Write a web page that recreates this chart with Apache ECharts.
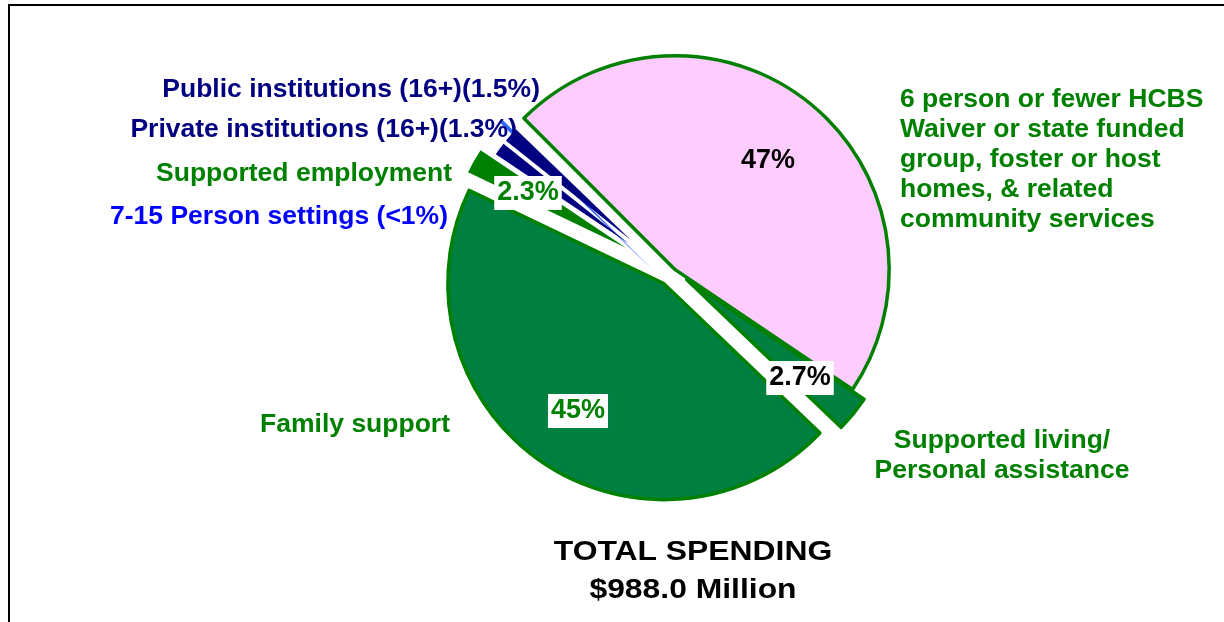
<!DOCTYPE html>
<html>
<head>
<meta charset="utf-8">
<script src="https://cdn.jsdelivr.net/npm/echarts@6/dist/echarts.min.js"></script>
<style>
  html, body { margin: 0; padding: 0; background: #fff; }
  #main { width: 1224px; height: 622px; }
</style>
</head>
<body>
<div id="main"></div>
<script>
// slices in clockwise order from the upper-left edge of the pink slice
var categories = [
    '6 person or fewer HCBS Waiver or state funded group, foster or host homes, & related community services',
    'Supported living/ Personal assistance',
    'Family support',
    'Supported employment',
    'Private institutions (16+)',
    'Public institutions (16+)',
    '7-15 Person settings'
];
var values = [47, 2.7, 45, 2.3, 1.3, 1.5, 0.3];
var pctLabels = ['47%', '2.7%', '45%', '2.3%', '', '', ''];
var nameLabels = [
    '6 person or fewer HCBS\nWaiver or state funded\ngroup, foster or host\nhomes, & related\ncommunity services',
    'Supported living/\nPersonal assistance',
    'Family support',
    'Supported employment',
    'Private institutions (16+)(1.3%)',
    'Public institutions (16+)(1.5%)',
    '7-15 Person settings (<1%)'
];

// styles
var fills = ['#ffccff', '#008040', '#008040', '#008000', '#000080', '#000080', '#3366ff'];
var borders = [3.5, 3.5, 3.5, 0, 0, 0, 0];
var nameColors = ['#008000', '#008000', '#008000', '#008000', '#000080', '#000080', '#0000ff'];
var pctColors = ['#000', '#000', '#008000', '#008000', '#000', '#000', '#000'];
var pctBg = ['transparent', '#fff', '#fff', '#fff', 'transparent', 'transparent', 'transparent'];
var sliceGroup = [0, 1, 2, 3, 4, 4, 0];
var groups = [
    { center: [665, 282], radius: 214, offset: 16 },
    { center: [675, 270], radius: 214, offset: 15 },
    { center: [665, 282], radius: 216, offset: 2 },
    { center: [665, 270], radius: 175, offset: 45 },
    { center: [665, 270], radius: 160, offset: 45 }
];
var namePos = [
    [900, 160, 'left'], [1002, 456, 'center'], [450, 425, 'right'], [452, 174, 'right'],
    [517, 130, 'right'], [540, 90, 'right'], [448, 217, 'right']
];
var pctPos = [[768, 161], [800, 378], [578, 411], [528, 193], [0, 0], [0, 0], [0, 0]];

var FONT = 'Liberation Sans, Arial, sans-serif';
var clear = 'rgba(0,0,0,0)';

var series = groups.map(function (g, gi) {
    return {
        type: 'pie',
        z: 2,
        center: g.center,
        radius: g.radius,
        startAngle: 135,
        clockwise: true,
        selectedMode: 'multiple',
        selectedOffset: g.offset,
        avoidLabelOverlap: false,
        animation: false,
        silent: true,
        label: { show: false },
        labelLine: { show: false },
        data: values.map(function (v, i) {
            var mine = sliceGroup[i] === gi;
            return {
                name: categories[i],
                value: v,
                selected: mine,
                itemStyle: {
                    color: mine ? fills[i] : clear,
                    borderColor: '#008000',
                    borderWidth: mine ? borders[i] : 0
                }
            };
        })
    };
});

// transparent overlays that carry the text labels
function labelSeries(texts, colors, bgs, pos, size) {
    return {
        type: 'pie',
        z: 10,
        center: [665, 282],
        radius: 214,
        startAngle: 135,
        animation: false,
        silent: true,
        avoidLabelOverlap: false,
        labelLine: { show: false },
        itemStyle: { color: clear, borderWidth: 0 },
        data: values.map(function (v, i) {
            return {
                name: categories[i],
                value: v,
                label: {
                    show: !!texts[i],
                    position: 'inside',
                    formatter: texts[i] || '',
                    color: colors[i],
                    backgroundColor: bgs ? bgs[i] : 'transparent',
                    padding: bgs ? [3, 3, 1, 3] : 0,
                    fontFamily: FONT,
                    fontWeight: 'bold',
                    fontSize: size,
                    lineHeight: 30,
                    align: pos[i][2] || 'center'
                }
            };
        }),
        labelLayout: function (p) {
            var q = pos[p.dataIndex];
            return { x: q[0], y: q[1], align: q[2] || 'center', verticalAlign: 'middle' };
        }
    };
}
series.push(labelSeries(nameLabels, nameColors, null, namePos, 26.5));
series.push(labelSeries(pctLabels, pctColors, pctBg, pctPos, 27));

var myChart = echarts.init(document.getElementById('main'));
myChart.setOption({
    backgroundColor: '#fff',
    tooltip: { show: false },
    graphic: [
        {
            type: 'rect',
            shape: { x: 9, y: 5, width: 1240, height: 650 },
            style: { fill: 'none', stroke: '#000', lineWidth: 2 },
            silent: true
        },
        {
            type: 'text',
            x: 693, y: 553, scaleX: 1.18,
            style: {
                text: 'TOTAL SPENDING', fill: '#000', align: 'center', verticalAlign: 'middle',
                font: 'bold 27px "Liberation Sans", Arial, sans-serif'
            }
        },
        {
            type: 'text',
            x: 693, y: 591, scaleX: 1.18,
            style: {
                text: '$988.0 Million', fill: '#000', align: 'center', verticalAlign: 'middle',
                font: 'bold 27px "Liberation Sans", Arial, sans-serif'
            }
        }
    ],
    series: series
});
</script>
</body>
</html>
